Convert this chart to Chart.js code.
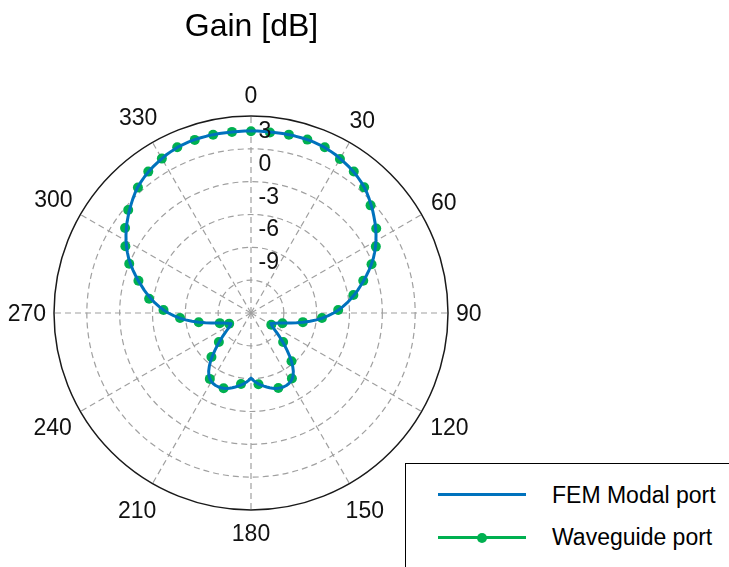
<!DOCTYPE html>
<html>
<head>
<meta charset="utf-8">
<title>Gain [dB]</title>
<script src="https://cdn.jsdelivr.net/npm/chart.js@4.4.1/dist/chart.umd.min.js"></script>
<style>
  html, body { margin: 0; padding: 0; background: #fff; overflow: hidden; }
  #wrap { position: relative; width: 729px; height: 567px; overflow: hidden; }
  #gainChart { position: absolute; left: 0; top: 0; }
  .legend-box { position: absolute; left: 405px; top: 463px; width: 400px; height: 200px; border: 1px solid #000; background: #fff; }
  .legend-line { position: absolute; left: 438px; width: 88px; height: 3px; }
  .legend-dot { position: absolute; width: 10px; height: 10px; border-radius: 50%; background: #00b050; }
  .legend-text { position: absolute; left: 552px; font: 23px/23px "Liberation Sans", Arial, sans-serif; color: #000; white-space: nowrap; }
</style>
</head>
<body>
<div id="wrap">
  <canvas id="gainChart" width="729" height="567"></canvas>
  <div class="legend-box"></div>
  <div class="legend-line" style="top:493px; background:#0072bd;"></div>
  <div class="legend-text" style="top:483.5px;">FEM Modal port</div>
  <div class="legend-line" style="top:536px; background:#00b050;"></div>
  <div class="legend-dot" style="left:477px; top:532.5px;"></div>
  <div class="legend-text" style="top:525.5px;">Waveguide port</div>
</div>
<script>
// angle grid, 2 degree steps, clockwise from the top
const thetaDeg = Array.from({ length: 180 }, (_, i) => i * 2);

// FEM modal port gain in dB, one value per thetaDeg entry
const femGain = [
  1.63, 1.63, 1.63, 1.63, 1.64, 1.65, 1.66, 1.66, 1.66, 1.65,
  1.63, 1.60, 1.56, 1.48, 1.40, 1.29, 1.18, 1.07, 0.94, 0.80,
  0.64, 0.47, 0.25, 0.01, -0.24, -0.48, -0.74, -0.99, -1.26, -1.53,
  -1.82, -2.12, -2.44, -2.77, -3.14, -3.52, -3.91, -4.29, -4.68, -5.04,
  -5.42, -5.80, -6.18, -6.59, -7.01, -7.45, -7.93, -8.44, -8.98, -9.56,
  -10.17, -10.74, -11.25, -11.69, -12.06, -12.32, -12.53, -12.68, -12.81, -12.94,
  -12.84, -12.70, -12.50, -12.24, -11.93, -11.56, -11.16, -10.72, -10.25, -9.74,
  -9.24, -8.81, -8.42, -8.12, -7.91, -7.76, -7.67, -7.63, -7.62, -7.64,
  -7.68, -7.75, -7.85, -7.96, -8.09, -8.22, -8.35, -8.49, -8.65, -8.84,
  -9.05,
  -8.84, -8.65, -8.49, -8.35, -8.22, -8.09, -7.96, -7.85, -7.75, -7.68,
  -7.64, -7.62, -7.63, -7.67, -7.76, -7.91, -8.12, -8.42, -8.81, -9.24,
  -9.74, -10.25, -10.72, -11.16, -11.56, -11.93, -12.24, -12.50, -12.70, -12.84,
  -12.94, -12.81, -12.68, -12.53, -12.32, -12.06, -11.69, -11.25, -10.74, -10.17,
  -9.56, -8.98, -8.44, -7.93, -7.45, -7.01, -6.59, -6.18, -5.80, -5.42,
  -5.04, -4.68, -4.29, -3.91, -3.52, -3.14, -2.77, -2.44, -2.12, -1.82,
  -1.53, -1.26, -0.99, -0.74, -0.48, -0.24, 0.01, 0.25, 0.47, 0.64,
  0.80, 0.94, 1.07, 1.18, 1.29, 1.40, 1.48, 1.56, 1.60, 1.63,
  1.65, 1.66, 1.66, 1.66, 1.65, 1.64, 1.63, 1.63, 1.63
];

// waveguide port samples (marker positions)
const wgTheta = [
  0, 6, 12, 18, 24, 30, 36, 42, 48, 56,
  62, 68, 74, 80, 88, 94, 100, 108, 120, 132,
  140, 148, 160, 174, 188, 200, 212, 222, 228, 244,
  252, 260, 266, 272, 278, 286, 292, 298, 304, 310,
  318, 324, 330, 336, 342, 348, 354
];
const wgGain = [
  1.60, 1.58, 1.66, 1.66, 1.57, 1.25, 0.98, 0.45, -0.30, -1.20,
  -2.08, -3.12, -4.33, -5.50, -7.03, -8.50, -10.19, -11.98, -12.86, -11.05,
  -9.24, -7.95, -7.70, -8.45, -8.45, -7.68, -7.90, -9.60, -11.05, -12.78,
  -12.00, -10.15, -8.50, -7.00, -5.60, -4.30, -3.00, -2.00, -1.12, -0.35,
  0.44, 0.97, 1.29, 1.57, 1.63, 1.65, 1.64
];

const thetaTicks = [0, 30, 60, 90, 120, 150, 180, 210, 240, 270, 300, 330];
const rTicks = [3, 0, -3, -6, -9];

const wgSeries = thetaDeg.map(() => null);
wgTheta.forEach((t, k) => { wgSeries[thetaDeg.indexOf(t)] = wgGain[k]; });

const FONT = '"Liberation Sans", Arial, sans-serif';
const GRID = '#a0a0a0';
Chart.defaults.font.family = FONT;

// theta labels round the rim and r labels beside the 0 degree spoke
const polarLabels = {
  id: 'polarLabels',
  afterDraw(chart) {
    const r = chart.scales.r;
    const ctx = chart.ctx;
    ctx.save();
    ctx.fillStyle = '#111';
    ctx.font = '23px ' + FONT;
    ctx.textBaseline = 'middle';
    ctx.textAlign = 'center';
    thetaTicks.forEach(t => {
      const label = String(t);
      const w = ctx.measureText(label).width;
      const a = t * Math.PI / 180;
      const cos = Math.cos(a);
      const half = cos >= 0 ? 13 : 15;
      const d = r.drawingArea + 8 + (w / 2) * Math.abs(Math.sin(a)) + half * Math.abs(cos);
      const p = r.getPointPosition(thetaDeg.indexOf(t), d);
      ctx.fillText(label, p.x, p.y + 1.5);
    });
    ctx.textAlign = 'left';
    rTicks.forEach(v => {
      const d = r.getDistanceFromCenterForValue(v);
      ctx.fillText(String(v), r.xCenter + 7.5, r.yCenter - d + 15.5);
    });
    ctx.restore();
  }
};

new Chart(document.getElementById('gainChart'), {
  type: 'radar',
  data: {
    labels: thetaDeg,
    datasets: [
      {
        label: 'FEM Modal port',
        data: femGain,
        borderColor: '#0072bd',
        backgroundColor: '#0072bd',
        borderWidth: 3,
        borderJoinStyle: 'round',
        pointRadius: 0,
        fill: false
      },
      {
        label: 'Waveguide port',
        data: wgSeries,
        showLine: false,
        borderColor: '#00b050',
        pointBackgroundColor: '#00b050',
        pointBorderWidth: 0,
        pointRadius: 5,
        fill: false
      }
    ]
  },
  options: {
    responsive: false,
    animation: false,
    events: [],
    layout: { padding: { left: 54, right: 280, top: 8, bottom: 56 } },
    plugins: {
      legend: { display: false },
      tooltip: { enabled: false },
      title: {
        display: true,
        text: 'Gain [dB]',
        color: '#000',
        font: { size: 32, weight: 'normal' },
        padding: { top: 0, bottom: 69.6 }
      }
    },
    scales: {
      r: {
        min: -15,
        max: 3,
        startAngle: 0,
        ticks: { display: false, stepSize: 3 },
        pointLabels: { display: false },
        grid: {
          circular: true,
          color: c => c.tick.value === 3 ? '#1a1a1a' : GRID,
          lineWidth: c => c.tick.value === 3 ? 1.5 : 1.2
        },
        border: { dash: c => c.tick.value === 3 ? [] : [6, 4] },
        angleLines: {
          color: GRID,
          lineWidth: c => c.index % 15 === 0 ? 1.2 : 0,
          borderDash: [6, 4]
        }
      }
    }
  },
  plugins: [polarLabels]
});
</script>
</body>
</html>
